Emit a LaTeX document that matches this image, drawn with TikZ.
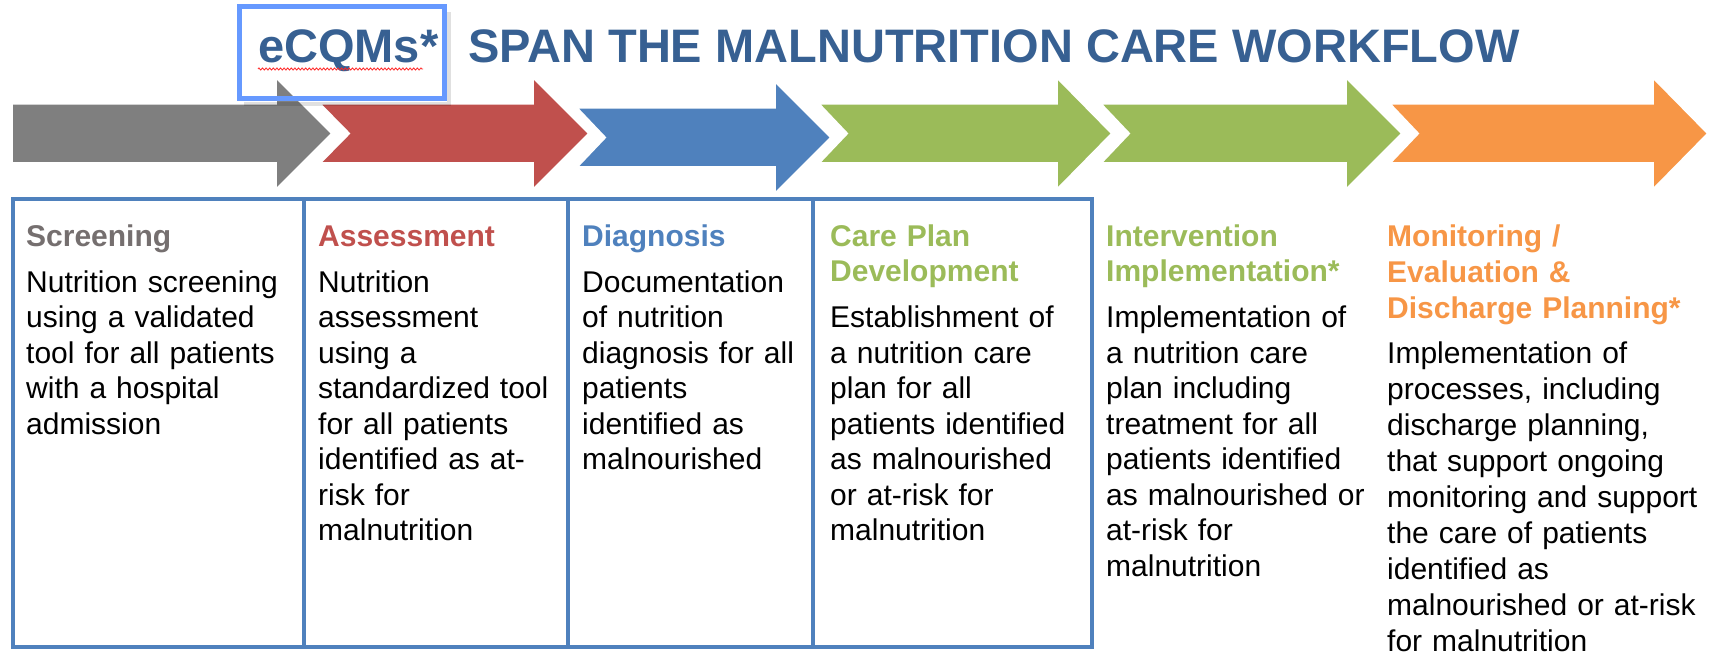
\documentclass[tikz,border=0pt]{standalone}
\usepackage{fontspec}
\setmainfont{Liberation Sans}
\usepackage{tikz}
\usetikzlibrary{decorations.pathmorphing}

\definecolor{titelblau}{HTML}{376092}
\definecolor{rahmenblau}{HTML}{6699FF}
\definecolor{pgrau}{HTML}{7F7F7F}
\definecolor{prot}{HTML}{C0504D}
\definecolor{pblau}{HTML}{4F81BD}
\definecolor{pgruen}{HTML}{9BBB59}
\definecolor{porange}{HTML}{F79646}
\definecolor{kopfgrau}{HTML}{756F6F}

\begin{document}
\begin{tikzpicture}[x=1pt,y=-1pt,
  spalte/.style={anchor=north west,inner sep=0pt,text width=330pt,align=left,font=\fontsize{30}{35.5}\selectfont},
  tabelle/.style={draw=pblau,line width=4.5pt},
  titel/.style={anchor=base west,inner sep=0pt,text=titelblau,font=\fontsize{47}{56}\selectfont\bfseries}]
\useasboundingbox (0,0) rectangle (1714,658);
%Masse in Pixel, y zeigt nach unten
  \pgfmathsetmacro{\schaft}{30.5}
  \pgfmathsetmacro{\kopf}{58}
%Pfeile: links/Kopfanfang/Spitze/Kerbe/Mitte/Farbe
\foreach \li/\ko/\sp/\ke/\mi/\fa in {11/275/333/0/133.5/pgrau, 318/532/590/30/133.5/prot, 575/774/832/29/137.5/pblau, 817/1056/1113/29/133.5/pgruen, 1099/1345/1403/29/133.5/pgruen, 1388/1652/1709/29/133.5/porange}{
\draw[white,line width=3.5pt,fill=\fa] (\li,\mi-\schaft) -- (\ko,\mi-\schaft) -- (\ko,\mi-\kopf) -- (\sp,\mi) -- (\ko,\mi+\kopf) -- (\ko,\mi+\schaft) -- (\li,\mi+\schaft) -- (\li+\ke,\mi) -- cycle;
}
%Rahmen um eCQMs mit leichtem Schatten
\draw[black,opacity=.12,line width=4pt] (244,104) -- (449,104) -- (449,12);
\draw[rahmenblau,line width=5pt] (239,7) rectangle (444,99);
\node[titel] (ecqm) at (258,63) {eCQMs*};
\draw[red!85,line width=.8pt,decorate,decoration={zigzag,amplitude=1.1pt,segment length=3.6pt}] (258,69) -- (423,69);
\node[titel] (titel) at (468,63) {SPAN THE MALNUTRITION CARE WORKFLOW};
%Tabelle fuer die ersten vier Schritte
\draw[tabelle] (13,199) rectangle (1092,647);
\foreach \x in {304,568,813}{
\draw[tabelle] (\x,199) -- (\x,647);
}
%Texte, erste Grundlinie bei 246
\node[spalte] (screening) at (26,221) {\strut\textcolor{kopfgrau}{\bfseries Screening}\\[10.5pt]
Nutrition screening\\ using a validated\\ tool for all patients\\ with a hospital\\ admission};
\node[spalte] (assessment) at (318,221) {\strut\textcolor{prot}{\bfseries Assessment}\\[10.5pt]
Nutrition\\ assessment\\ using a\\ standardized tool\\ for all patients\\ identified as at-\\ risk for\\ malnutrition};
\node[spalte] (diagnosis) at (582,221) {\strut\textcolor{pblau}{\bfseries Diagnosis}\\[10.5pt]
Documentation\\ of nutrition\\ diagnosis for all\\ patients\\ identified as\\ malnourished};
\node[spalte] (careplan) at (830,221) {\strut\textcolor{pgruen}{\bfseries Care Plan\\ Development}\\[10.5pt]
Establishment of\\ a nutrition care\\ plan for all\\ patients identified\\ as malnourished\\ or at-risk for\\ malnutrition};
\node[spalte] (intervention) at (1106,221) {\strut\textcolor{pgruen}{\bfseries Intervention\\ Implementation*}\\[10.5pt]
Implementation of\\ a nutrition care\\ plan including\\ treatment for all\\ patients identified\\ as malnourished or\\ at-risk for\\ malnutrition};
%letzte Spalte etwas weiter gesetzt
\node[spalte,font=\fontsize{30}{35.9}\selectfont] (monitoring) at (1387,220.9) {\strut\textcolor{porange}{\bfseries Monitoring /\\ Evaluation \&\\ Discharge Planning*}\\[10pt]
Implementation of\\ processes, including\\ discharge planning,\\ that support ongoing\\ monitoring and support\\ the care of patients\\ identified as\\ malnourished or at-risk\\ for malnutrition};
\end{tikzpicture}
\end{document}
